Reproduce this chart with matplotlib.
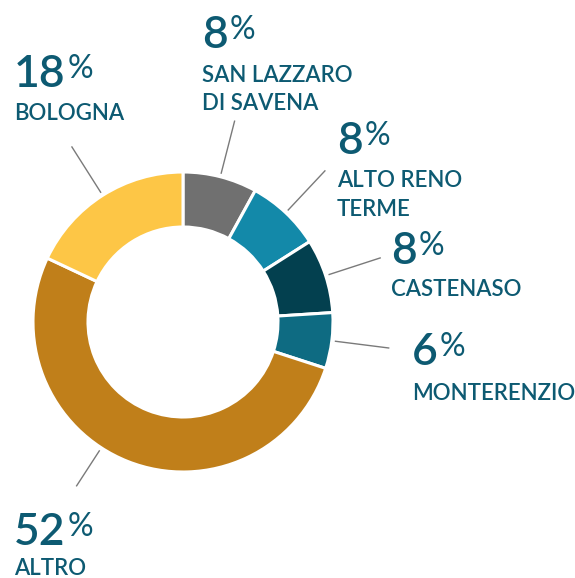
import matplotlib
matplotlib.use('Agg')
import matplotlib.pyplot as plt
import numpy as np

# data
labels = ['SAN LAZZARO\nDI SAVENA', 'ALTO RENO\nTERME', 'CASTENASO', 'MONTERENZIO', 'ALTRO', 'BOLOGNA']
shares = [8, 8, 8, 6, 52, 18]

# style
colors = ['#707070', '#1389a9', '#03404f', '#0e6b82', '#c07f1a', '#fdc646']
text_color = '#0d5a72'
plt.rcParams['font.family'] = ['Lato', 'DejaVu Sans']

# layout in pixels (x of text, baseline of number, baseline of first label line)
text_pos = [(202, 48, 82), (337, 154, 187), (391, 264, 296),
            (412, 365, 400), (14, 545, 575), (14, 87, 120)]
leader_angle = [None, None, None, None, -123, None]

W, H = 575, 578
fig = plt.figure(figsize=(W / 100, H / 100), dpi=100)
ax = fig.add_axes([0, 0, 1, 1])

cx, cy, R = 183, H - 322, 150
wedges, _ = ax.pie(shares, colors=colors, startangle=90, counterclock=False,
                   center=(cx, cy), radius=R, frame=True,
                   wedgeprops=dict(width=55, edgecolor='white', linewidth=2.2))
ax.set_xlim(0, W)
ax.set_ylim(0, H)
ax.set_aspect('auto')
ax.axis('off')

fig.canvas.draw()
renderer = fig.canvas.get_renderer()

for w, lab, val, pos, ang in zip(wedges, labels, shares, text_pos, leader_angle):
    if ang is None:
        ang = (w.theta1 + w.theta2) / 2
    a = np.deg2rad(ang)
    r0, r1 = 153, 208 if lab != 'ALTRO' else 196
    ax.plot([cx + r0 * np.cos(a), cx + r1 * np.cos(a)],
            [cy + r0 * np.sin(a), cy + r1 * np.sin(a)],
            color='#7a7a7a', lw=1.0, solid_capstyle='butt')

    x, yn, yl = pos
    t = ax.text(x, H - yn, str(val), fontsize=32, fontweight='semibold',
                color=text_color, ha='left', va='baseline')
    bb = t.get_window_extent(renderer)
    ax.text(bb.x1 + 2, H - yn + 9, '%', fontsize=23, fontweight='normal',
            color=text_color, ha='left', va='baseline')
    for i, line in enumerate(lab.split('\n')):
        ax.text(x, H - yl - i * 28.5, line, fontsize=16, fontweight='semibold',
                color=text_color, ha='left', va='baseline')

fig.savefig('out.png', dpi=100)
